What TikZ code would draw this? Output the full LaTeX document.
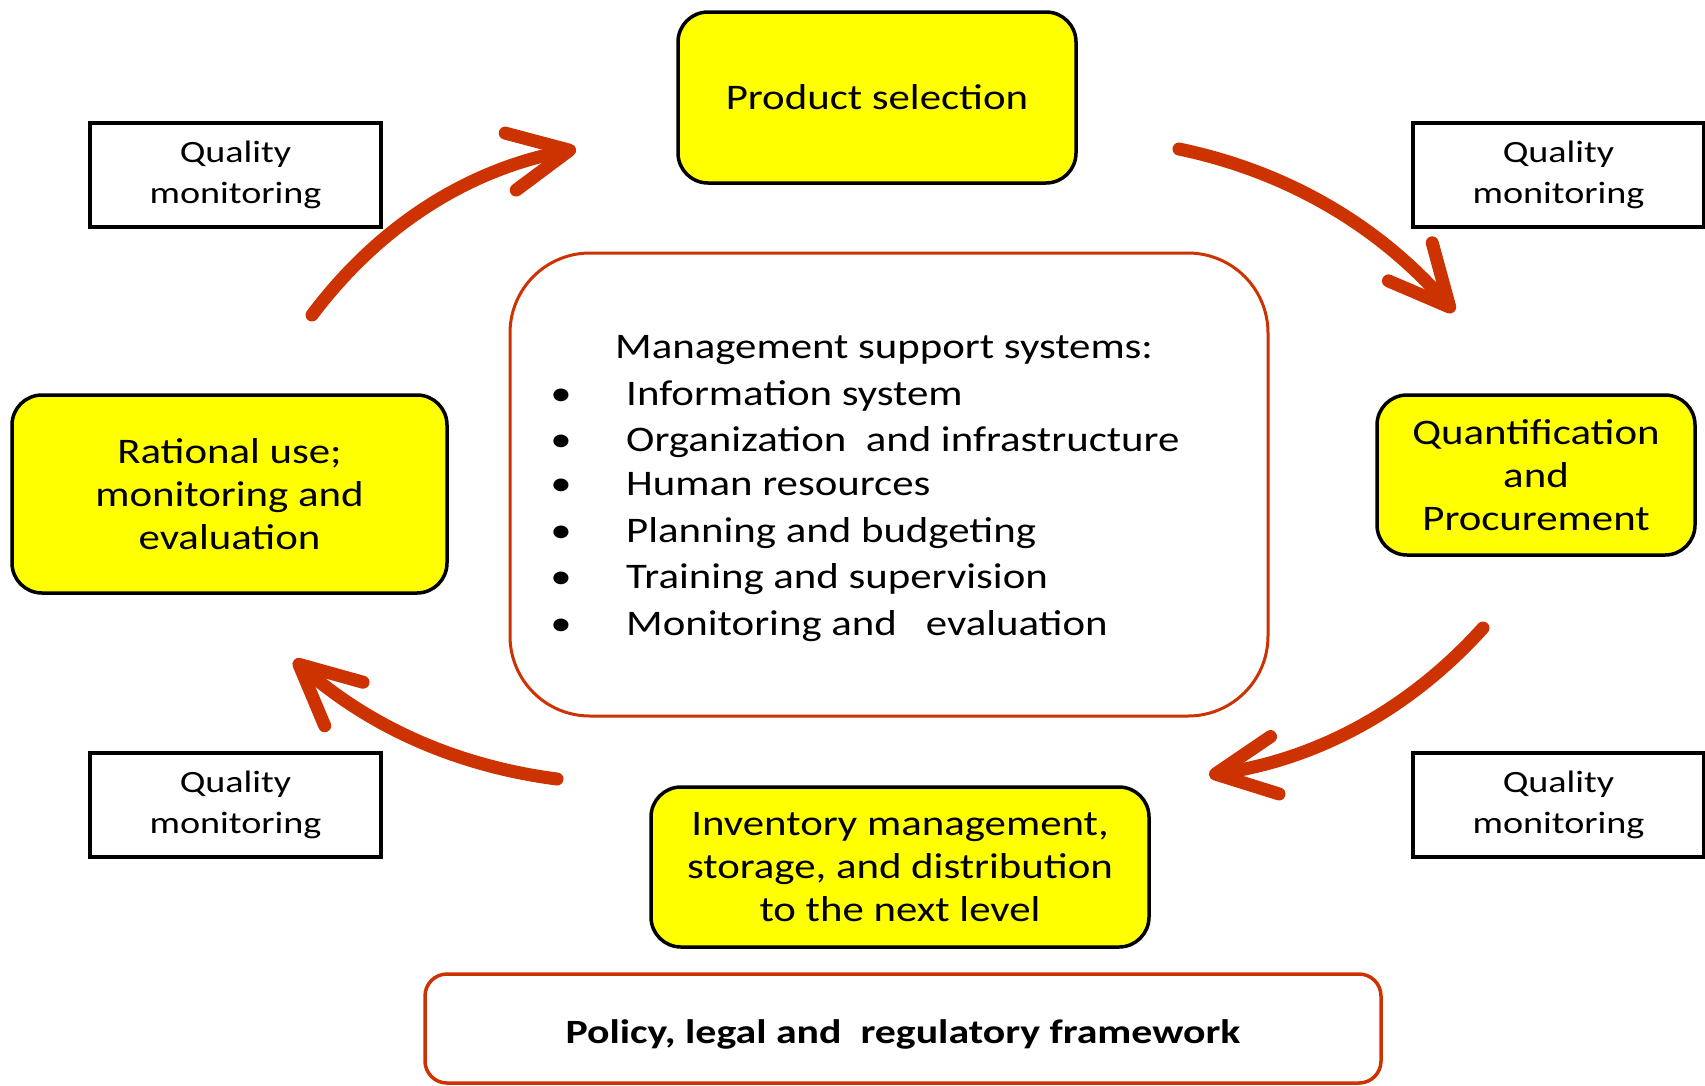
\documentclass[tikz,border=0pt]{standalone}
\usepackage{fontspec}
\setmainfont[FakeStretch=1.19]{Carlito}
\newfontfamily\qfont[FakeStretch=1.23]{Carlito}
\newfontfamily\polfont[FakeStretch=1.23]{Carlito}
\usetikzlibrary{arrows.meta}
\definecolor{arrowred}{HTML}{CC3300}
\definecolor{boxyellow}{HTML}{FFFF00}
\begin{document}
\begin{tikzpicture}[x=1pt,y=-1pt,
  stage/.style={draw=black, line width=3.5pt, fill=boxyellow, rounded corners=30pt,
    align=center, font=\fontsize{36}{43}\selectfont, inner sep=0pt},
  qbox/.style={draw=black, line width=4pt, fill=white, align=center,
    font=\qfont\fontsize{31}{41}\selectfont, minimum width=291pt, minimum height=104pt, inner sep=0pt},
  frame/.style={draw=arrowred, line width=3pt, inner sep=0pt},
  listtext/.style={anchor=base west, inner sep=0pt, font=\fontsize{36}{43}\selectfont},
  bulletmark/.style={anchor=base, inner sep=0pt, font=\fontsize{36}{43}\selectfont},
  flow/.style={draw=arrowred, line width=13pt, line cap=round,
    -{Straight Barb[length=60pt,width=58pt,round]}}
]
\useasboundingbox (0,0) rectangle (1705,1085);

% stages
\node[stage, minimum width=398pt, minimum height=171pt] (prod) at (877,97.5) {Product selection};
\node[stage, minimum width=318pt, minimum height=160pt] (quant) at (1536,475) {Quantification\\and\\Procurement};
\node[stage, minimum width=498pt, minimum height=160pt] (inv) at (900,867) {Inventory management,\\storage, and distribution\\to the next level};
\node[stage, minimum width=435pt, minimum height=198pt] (ratl) at (229.5,494) {Rational use;\\monitoring and\\evaluation};

% quality monitoring boxes
\node[qbox] (q1) at (235.5,175) {Quality\\monitoring};
\node[qbox] (q2) at (1558.5,175) {Quality\\monitoring};
\node[qbox] (q3) at (235.5,805) {Quality\\monitoring};
\node[qbox] (q4) at (1558.5,805) {Quality\\monitoring};

% central box
\node[frame, rounded corners=80pt, minimum width=758pt, minimum height=463pt] (mss) at (889,484.5) {};
\node[listtext] (mh) at (615,358) {Management support systems:};
\node[bulletmark] (b1) at (561,405) {\textbullet};
\node[listtext] (l1) at (626,405) {Information system};
\node[bulletmark] (b2) at (561,451) {\textbullet};
\node[listtext] (l2) at (626,451) {Organization\ \ and infrastructure};
\node[bulletmark] (b3) at (561,495) {\textbullet};
\node[listtext] (l3) at (626,495) {Human resources};
\node[bulletmark] (b4) at (561,542) {\textbullet};
\node[listtext] (l4) at (626,542) {Planning and budgeting};
\node[bulletmark] (b5) at (561,588) {\textbullet};
\node[listtext] (l5) at (626,588) {Training and supervision};
\node[bulletmark] (b6) at (561,635) {\textbullet};
\node[listtext] (l6) at (626,635) {Monitoring and\ \ \ evaluation};

% policy box
\node[frame, line width=3.5pt, rounded corners=22pt, minimum width=956pt, minimum height=109pt] (pol) at (903,1028.5) {};
\node[anchor=base, inner sep=0pt, font=\polfont\bfseries\fontsize{34}{40}\selectfont] (poltext) at (903,1043) {Policy, legal and\ \ regulatory framework};

% cycle arrows
\coordinate (tlS) at (312,315);  \coordinate (tlE) at (576,149);
\coordinate (trS) at (1179,149); \coordinate (trE) at (1454,312);
\coordinate (brS) at (1483,628); \coordinate (brE) at (1209,775);
\coordinate (blS) at (557,779);  \coordinate (blE) at (294,660);
\draw[flow] (tlS) .. controls (379,226) and (467,170) .. (tlE);
\draw[flow] (trS) .. controls (1289,172) and (1380,227) .. (trE);
\draw[flow] (brS) .. controls (1409,710) and (1317,759) .. (brE);
\draw[flow] (blS) .. controls (457,766) and (370,727) .. (blE);
\end{tikzpicture}
\end{document}
